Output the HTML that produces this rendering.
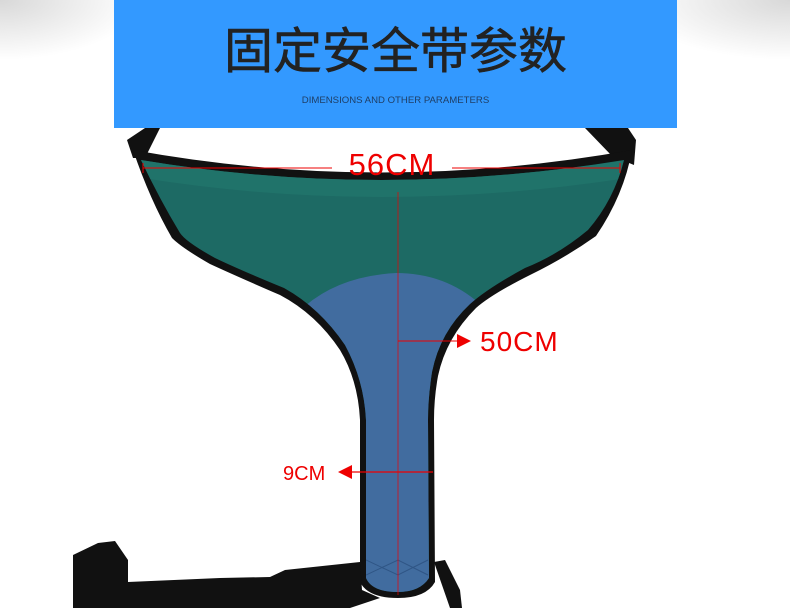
<!DOCTYPE html>
<html><head><meta charset="utf-8"><style>
html,body{margin:0;padding:0;}
body{width:790px;height:608px;overflow:hidden;background:#fff;position:relative;font-family:"Liberation Sans","Noto Sans CJK SC",sans-serif;}
.bg{position:absolute;inset:0;background:radial-gradient(ellipse 140px 60px at 0 0,#d8d8d8,rgba(255,255,255,0)),radial-gradient(ellipse 160px 60px at 790px 0,#d8d8d8,rgba(255,255,255,0));}
.banner{position:absolute;left:114px;top:0;width:563px;height:128px;background:#3399ff;}
.title{position:absolute;left:0;width:100%;top:22px;text-align:center;font-size:49px;color:#222;line-height:60px;-webkit-text-stroke:0.6px #222;}
.sub{position:absolute;left:0;width:100%;top:95px;text-align:center;font-size:9.6px;color:#1f3f66;}
svg{position:absolute;left:0;top:0;}
</style></head><body>
<div class="bg"></div>
<svg width="790" height="608" viewBox="0 0 790 608">
 <defs>
  <clipPath id="inner"><path d="M141,160 Q380,200 624,160 Q614,200 588,230 Q558,255 525,268 Q488,288 470,304 Q440,332 432,372 Q428,398 428,420 L429,578 Q420,592 398,592 Q372,592 366,578 L366,420 Q364,380 345,345 Q320,308 284,288 Q240,270 215,258 Q186,242 180,233 Q160,200 141,160 Z"/></clipPath>
 </defs>
 <!-- top straps -->
 <path d="M127,140 L145,128 L160,128 L145,158 L133,158 Z" fill="#111"/>
 <path d="M585,128 L628,128 L636,140 L634,165 L612,156 Z" fill="#111"/>
 <!-- body outline -->
 <path d="M133,150 Q380,195 632,150 Q624,195 596,236 Q565,258 530,275 Q492,294 476,308 Q446,338 438,376 Q434,398 434,420 L435,582 Q426,598 398,598 Q368,598 360,582 L360,420 Q358,380 340,350 Q316,314 280,295 Q236,276 210,264 Q182,248 172,238 Q150,200 133,150 Z" fill="#111"/>
 <g clip-path="url(#inner)">
  <rect x="0" y="0" width="790" height="608" fill="#1d6a64"/>
  <path d="M130,158 Q380,200 640,158 L640,176 Q380,218 130,176 Z" fill="#22766b" opacity=".8"/>
  <path d="M305,306 Q340,276 396,273 Q445,273 480,304 L480,608 L305,608 Z" fill="#416c9f"/>
  <path d="M366,575 L398,560 L428,575 M366,560 L398,575 L428,560" stroke="#2f5585" fill="none" stroke-width="1"/>
 </g>
 <!-- bottom straps -->
 <path d="M73,555 L98,543 L115,541 L128,560 L128,582 L220,578 L270,577 L285,570 L360,562 L362,590 L380,598 L350,608 L73,608 Z" fill="#111"/>
 <path d="M434,562 L445,560 L460,590 L462,608 L450,608 Z" fill="#111"/>
 <!-- measurement lines -->
 <line x1="143" y1="168" x2="332" y2="168" stroke="#e00" stroke-width="1"/>
 <line x1="452" y1="168" x2="620" y2="168" stroke="#e00" stroke-width="1"/>
 <line x1="143" y1="163" x2="143" y2="173" stroke="#e00"/>
 <line x1="620" y1="163" x2="620" y2="173" stroke="#e00"/>
 <line x1="398" y1="192" x2="398" y2="595" stroke="#e00" stroke-width=".7"/>
 <line x1="398" y1="341" x2="458" y2="341" stroke="#e00" stroke-width="1"/>
 <path d="M457,334 L471,341 L457,348 Z" fill="#e00"/>
 <line x1="350" y1="472" x2="433" y2="472" stroke="#e00" stroke-width="1.2"/>
 <path d="M352,465 L338,472 L352,479 Z" fill="#e00"/>
 <text x="392" y="175" text-anchor="middle" font-family="Liberation Sans" font-size="31" fill="#e00" letter-spacing="1">56CM</text>
 <text x="480" y="351" font-family="Liberation Sans" font-size="28" fill="#e00" letter-spacing="1">50CM</text>
 <text x="283" y="480" font-family="Liberation Sans" font-size="20" fill="#e00">9CM</text>
</svg>
<div class="banner"><div class="title">固定安全带参数</div><div class="sub">DIMENSIONS AND OTHER PARAMETERS</div></div>
</body></html>
